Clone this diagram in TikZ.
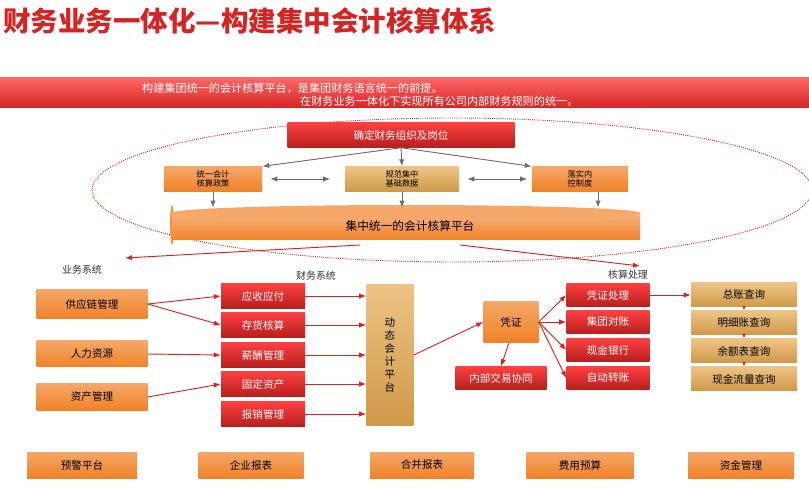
\documentclass[tikz,border=0pt]{standalone}
\usepackage{fontspec}
\setmainfont{Noto Sans CJK SC}
\usepackage{tikz}
\usetikzlibrary{arrows.meta}
\definecolor{hred}{RGB}{214,36,36}
\definecolor{horange}{RGB}{240,130,40}
\definecolor{hgold}{RGB}{230,170,80}
\definecolor{hgrey}{RGB}{110,110,110}
\tikzset{
  redbox/.style={draw=none,top color=red!75!white,bottom color=hred!85!black,text=white,font=\fontsize{9}{10}\selectfont},
  orbox/.style={draw=none,top color=horange!70!white,bottom color=horange,text=black,font=\fontsize{9}{10}\selectfont},
  goldbox/.style={draw=none,top color=hgold!70!white,bottom color=hgold!90!black,text=black,font=\fontsize{9}{10}\selectfont},
  rarr/.style={hred,thick,-{Latex[length=6pt]}},
  garr/.style={hgrey,thick,-{Latex[length=6pt]}},
  lbl/.style={font=\fontsize{8.5}{10}\selectfont,text=black!80}
}
\begin{document}
\begin{tikzpicture}[x=0.03cm,y=-0.03cm]
\useasboundingbox (0,0) rectangle (809,488);
% 标题与横幅
\node[anchor=west,text=hred,font=\fontsize{23.5}{25}\selectfont\bfseries,inner sep=0pt] (title) at (3,21) {财务业务一体化—构建集中会计核算体系};
\fill[top color=red!60!white,bottom color=hred] (0,78) rectangle (809,108);
\node[anchor=west,text=white,font=\fontsize{9.5}{10}\selectfont] (l1) at (138,88) {构建集团统一的会计核算平台，是集团财务语言统一的前提。};
\node[anchor=west,text=white,font=\fontsize{9.5}{10}\selectfont] (l2) at (296,101) {在财务业务一体化下实现所有公司内部财务规则的统一。};
% 上部平台
\draw[hred,densely dotted,thick] (452,190) ellipse (360 and 72);
\node[redbox,minimum width=227*0.03cm,minimum height=25*0.03cm] (org) at (401,135) {确定财务组织及岗位};
\node[orbox,minimum width=98*0.03cm,minimum height=24*0.03cm,font=\fontsize{7}{8}\selectfont,align=center] (pol) at (213,179) {统一会计\\核算政策};
\node[goldbox,minimum width=114*0.03cm,minimum height=24*0.03cm,font=\fontsize{7}{8}\selectfont,align=center] (dat) at (402,179) {规范集中\\基础数据};
\node[orbox,minimum width=96*0.03cm,minimum height=24*0.03cm,font=\fontsize{7}{8}\selectfont,align=center] (ctl) at (580,179) {落实内\\控制度};
\fill[horange!85!white] (172,225) ellipse (2 and 20);
\fill[top color=horange!60!white,bottom color=horange] (172,213) -- (640,213) -- (640,240) -- (172,240) -- cycle;
\fill[horange!70!white] (406,213) ellipse (234 and 8);
\node[font=\fontsize{10}{12}\selectfont] (plat) at (410,226) {集中统一的会计核算平台};
\draw[garr] (org.south) -- (pol.north east);
\draw[garr] (org.south) -- (dat.north);
\draw[garr] (org.south) -- (ctl.north west);
\draw[hgrey,thick,{Latex[length=6pt]}-{Latex[length=6pt]}] (pol.east)++(8,0) -- ++(60,0);
\draw[hgrey,thick,{Latex[length=6pt]}-{Latex[length=6pt]}] (dat.east)++(8,0) -- ++(60,0);
\draw[garr] (pol.south) -- ++(0,16);
\draw[garr] (dat.south) -- ++(0,16);
\draw[garr] (ctl.south)++(18,0) -- ++(0,16);
\coordinate (pl) at (360,245);
\coordinate (pr) at (460,245);
\draw[rarr] (pl) -- (125,258);
\draw[rarr] (pr) -- (640,266);
% 标签
\node[lbl] (ywxt) at (82,270) {业务系统};
\node[lbl] (cwxt) at (316,276) {财务系统};
\node[lbl] (hscl) at (628,275) {核算处理};
% 业务系统
\node[orbox,minimum width=111*0.03cm,minimum height=29*0.03cm] (gyl) at (92,304) {供应链管理};
\node[orbox,minimum width=111*0.03cm,minimum height=26*0.03cm] (rlzy) at (92,354) {人力资源};
\node[orbox,minimum width=111*0.03cm,minimum height=26*0.03cm] (zcgl) at (92,397) {资产管理};
% 财务系统
\foreach \n/\t/\y in {ysyf/应收应付/296,chhs/存货核算/325,xcgl/薪酬管理/355,gdzc/固定资产/384,bxgl/报销管理/414}
  \node[redbox,minimum width=84*0.03cm,minimum height=25*0.03cm] (\n) at (263,\y) {\t};
\node[goldbox,minimum width=47*0.03cm,minimum height=141*0.03cm,align=center,font=\fontsize{9}{11}\selectfont] (dtpt) at (390,355) {动\\态\\会\\计\\平\\台};
\draw[rarr] (gyl.east) -- (ysyf.west);
\draw[rarr] (gyl.east) -- (chhs.west);
\draw[rarr] (rlzy.east) -- (xcgl.west);
\draw[rarr] (zcgl.east) -- (gdzc.west);
\foreach \n in {ysyf,chhs,xcgl,gdzc,bxgl}
  \draw[rarr] (\n.east) -- (\n.east -| dtpt.west);
% 核算处理
\node[orbox,minimum width=55*0.03cm,minimum height=41*0.03cm] (pz) at (511,322) {凭证};
\node[redbox,minimum width=91*0.03cm,minimum height=23*0.03cm] (nbjy) at (501,378) {内部交易协同};
\foreach \n/\t/\y in {pzcl/凭证处理/295,jtdz/集团对账/322,xjyh/现金银行/350,zdzz/自动转账/378}
  \node[redbox,minimum width=83*0.03cm,minimum height=23*0.03cm] (\n) at (608,\y) {\t};
\foreach \n/\t/\y in {zzcx/总账查询/295,mxcx/明细账查询/323,yecx/余额表查询/351,xjcx/现金流量查询/379}
  \node[goldbox,minimum width=106*0.03cm,minimum height=24*0.03cm] (\n) at (744,\y) {\t};
\draw[rarr] (dtpt.east) -- (pz.west);
\draw[rarr] (pz.south) ++(-2,0) -- (nbjy.north);
\foreach \n in {pzcl,jtdz,xjyh,zdzz}
  \draw[rarr] (pz.east) -- (\n.west);
\draw[rarr] (pzcl.east) -- (zzcx.west);
\draw[hred,thick,-{Latex[length=4pt]}] (zzcx.south) -- (mxcx.north);
\draw[hred,thick,-{Latex[length=4pt]}] (mxcx.south) -- (yecx.north);
\draw[hred,thick,-{Latex[length=4pt]}] (yecx.south) -- (xjcx.north);
% 底部
\foreach \n/\t/\x/\w in {yjpt/预警平台/82/110,qybb/企业报表/251/105,hbbb/合并报表/422/104,fyys/费用预算/580/107,zjgl/资金管理/741/106}
  \node[orbox,minimum width=\w*0.03cm,minimum height=26*0.03cm] (\n) at (\x,465) {\t};
\end{tikzpicture}
\end{document}
